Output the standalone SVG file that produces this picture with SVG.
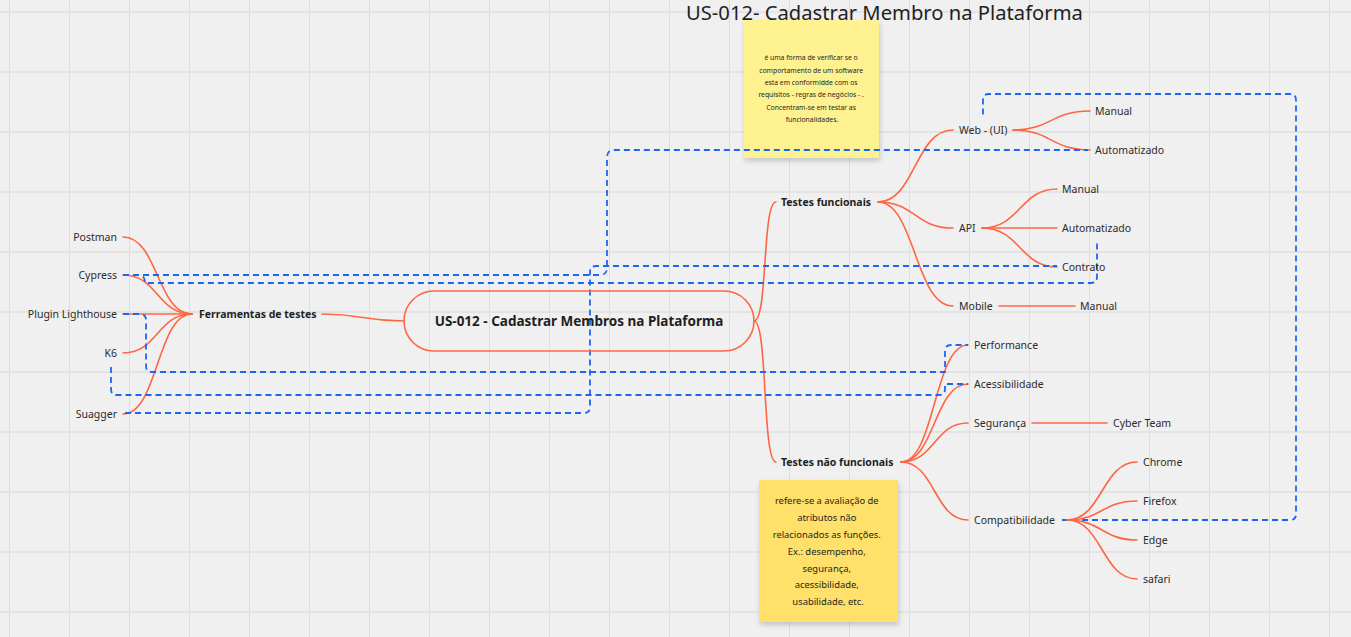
<svg xmlns="http://www.w3.org/2000/svg" width="1351" height="637" viewBox="0 0 1351 637">
<defs>
<pattern id="grid" x="0" y="0" width="60" height="60" patternUnits="userSpaceOnUse">
<rect x="0" y="0" width="60" height="60" fill="#f0f0f0"/>
<line x1="9.5" y1="0" x2="9.5" y2="60" stroke="#dedede" stroke-width="1"/>
<line x1="0" y1="12" x2="60" y2="12" stroke="#e3e3e3" stroke-width="2"/>
</pattern>
<filter id="shadow" x="-10%" y="-10%" width="130%" height="130%">
<feDropShadow dx="1" dy="3" stdDeviation="2.5" flood-color="#000" flood-opacity="0.18"/>
</filter>
</defs>
<style>
.lbl{font-family:"Noto Sans","Open Sans",sans-serif;font-size:10.5px;fill:#2b2b2b;dominant-baseline:central}
.bold{font-weight:bold;fill:#1f1f1f}
.big{font-size:13.5px}
.r{text-anchor:end}
.tree{fill:none;stroke:#ff6543;stroke-width:1.6;stroke-linecap:round}
.dash{fill:none;stroke:#1d66f0;stroke-width:1.8;stroke-dasharray:6 4}
.note{font-family:"Noto Sans","Open Sans",sans-serif;fill:#1f1f1f;text-anchor:middle}
</style>
<rect width="1351" height="637" fill="url(#grid)"/>

<g id="title">
<text x="686" y="20" font-family="Noto Sans, Open Sans, sans-serif" font-size="20.2" fill="#1f1f1f">US-012- Cadastrar Membro na Plataforma</text>
</g>

<g id="note-funcionais">
<rect x="744" y="20" width="135" height="138" fill="#fdf190" filter="url(#shadow)"/>
<text class="note" font-size="6.8">
<tspan x="812" y="60">é uma forma de verificar se o</tspan>
<tspan x="812" y="72.5">comportamento de um software</tspan>
<tspan x="812" y="85">esta em conformidde com os</tspan>
<tspan x="812" y="97">requisitos - regras de negócios - .</tspan>
<tspan x="812" y="109.5">Concentram-se em testar as</tspan>
<tspan x="812" y="122">funcionalidades.</tspan>
</text>
</g>

<g id="note-nao-funcionais">
<rect x="759" y="480" width="139" height="142" fill="#fee06b" filter="url(#shadow)"/>
<text class="note" font-size="9.4">
<tspan x="828" y="504">refere-se a avaliação de</tspan>
<tspan x="828" y="521">atributos não</tspan>
<tspan x="828" y="538">relacionados as funções.</tspan>
<tspan x="828" y="555">Ex.: desempenho,</tspan>
<tspan x="828" y="572">segurança,</tspan>
<tspan x="828" y="588">acessibilidade,</tspan>
<tspan x="828" y="605">usabilidade, etc.</tspan>
</text>
</g>

<g id="connectors">
<path class="tree" d="M123,237 C158,237 157,314 192,314"/>
<path class="tree" d="M123,275 C158,275 157,314 192,314"/>
<path class="tree" d="M123,314 H192"/>
<path class="tree" d="M123,353 C158,353 157,314 192,314"/>
<path class="tree" d="M123,414 C158,414 157,314 192,314"/>
<path class="tree" d="M322,314 C363,314 363,321 404,321"/>
<path class="tree" d="M754,321 C768,321 762,202 776,202"/>
<path class="tree" d="M754,321 C768,321 762,462 776,462"/>
<path class="tree" d="M878,202 C915,202 915,130 953,130"/>
<path class="tree" d="M878,202 C915,202 915,228 953,228"/>
<path class="tree" d="M878,202 C915,202 915,306 953,306"/>
<path class="tree" d="M1013,130 C1051,130 1051,111 1090,111"/>
<path class="tree" d="M1013,130 C1051,130 1051,150 1090,150"/>
<path class="tree" d="M982,228 C1020,228 1020,189 1057,189"/>
<path class="tree" d="M982,228 H1057"/>
<path class="tree" d="M982,228 C1020,228 1020,267 1057,267"/>
<path class="tree" d="M999,306 H1075"/>
<path class="tree" d="M901,462 C935,462 934,345 968,345"/>
<path class="tree" d="M901,462 C935,462 934,384 968,384"/>
<path class="tree" d="M901,462 C935,462 934,423 968,423"/>
<path class="tree" d="M901,462 C935,462 934,520 968,520"/>
<path class="tree" d="M1032,423 H1107"/>
<path class="dash" d="M123,275 H600 Q607,275 607,268 V157 Q607,150 614,150 H1088"/>
<path class="dash" d="M123,275 H139 Q145,275 145,283 H1091 Q1097,283 1097,277 V240"/>
<path class="dash" d="M125,413 H584 Q590,413 590,407 V272 Q590,266 596,266 H1057"/>
<path class="dash" d="M123,314 H140 Q146,314 146,320 V366 Q146,372 152,372 H945 V351 Q945,345 951,345 H968"/>
<path class="dash" d="M111,367 V389 Q111,395 117,395 H939 Q945,395 945,389 V384 H968"/>
<path class="dash" d="M1062,520 H1290 Q1296,520 1296,514 V100 Q1296,94 1290,94 H989 Q983,94 983,100 V116"/>
<path class="tree" d="M1067,520 C1102,520 1102,462 1137,462"/>
<path class="tree" d="M1067,520 C1102,520 1102,501 1137,501"/>
<path class="tree" d="M1067,520 C1102,520 1102,540 1137,540"/>
<path class="tree" d="M1067,520 C1102,520 1102,579 1137,579"/>
</g>

<g id="root">
<rect x="404" y="291" width="350" height="60" rx="30" ry="30" fill="none" stroke="#ff6543" stroke-width="1.6"/>
<text class="lbl bold big" x="579" y="321" text-anchor="middle">US-012 - Cadastrar Membros na Plataforma</text>
</g>

<g id="ferramentas"><text class="lbl bold" x="199" y="314">Ferramentas de testes</text></g>
<g id="postman"><text class="lbl r" x="117" y="237">Postman</text></g>
<g id="cypress"><text class="lbl r" x="117" y="275">Cypress</text></g>
<g id="lighthouse"><text class="lbl r" x="117" y="314">Plugin Lighthouse</text></g>
<g id="k6"><text class="lbl r" x="117" y="353">K6</text></g>
<g id="suagger"><text class="lbl r" x="117" y="414">Suagger</text></g>

<g id="funcionais"><text class="lbl bold" x="781" y="202">Testes funcionais</text></g>
<g id="web"><text class="lbl" x="959" y="130">Web - (UI)</text></g>
<g id="web-manual"><text class="lbl" x="1095" y="111">Manual</text></g>
<g id="web-auto"><text class="lbl" x="1095" y="150">Automatizado</text></g>
<g id="api"><text class="lbl" x="959" y="228">API</text></g>
<g id="api-manual"><text class="lbl" x="1062" y="189">Manual</text></g>
<g id="api-auto"><text class="lbl" x="1062" y="228">Automatizado</text></g>
<g id="api-contrato"><text class="lbl" x="1062" y="267">Contrato</text></g>
<g id="mobile"><text class="lbl" x="959" y="306">Mobile</text></g>
<g id="mobile-manual"><text class="lbl" x="1080" y="306">Manual</text></g>

<g id="nao-funcionais"><text class="lbl bold" x="781" y="462">Testes não funcionais</text></g>
<g id="performance"><text class="lbl" x="974" y="345">Performance</text></g>
<g id="acessibilidade"><text class="lbl" x="974" y="384">Acessibilidade</text></g>
<g id="seguranca"><text class="lbl" x="974" y="423">Segurança</text></g>
<g id="cyber"><text class="lbl" x="1113" y="423">Cyber Team</text></g>
<g id="compat"><text class="lbl" x="974" y="520">Compatibilidade</text></g>
<g id="chrome"><text class="lbl" x="1143" y="462">Chrome</text></g>
<g id="firefox"><text class="lbl" x="1143" y="501">Firefox</text></g>
<g id="edge"><text class="lbl" x="1143" y="540">Edge</text></g>
<g id="safari"><text class="lbl" x="1143" y="579">safari</text></g>
</svg>
